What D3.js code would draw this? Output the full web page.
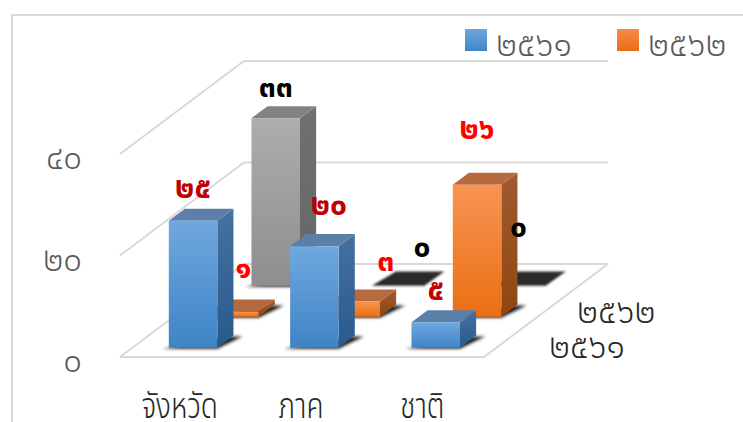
<!DOCTYPE html>
<html lang="th"><head><meta charset="utf-8">
<script src="https://cdn.jsdelivr.net/npm/d3@7/dist/d3.min.js"></script>
<style>
html,body{margin:0;padding:0;background:#fff}
svg{display:block}
text{font-family:"Noto Sans Thai","Noto Sans","DejaVu Sans",sans-serif}
</style></head><body>
<svg id="c" width="743" height="422"></svg>
<script>
const categories = ["จังหวัด","ภาค","ชาติ"];
const series2561 = [25,20,5];
const series2562 = [1,3,26];
const seriesHidden = [33,0,0];
const legendNames = ["2561","2562"];
const depthLabels = ["2561","2562"];
const yTicks = [0,20,40];

const thai = s => String(s).replace(/\d/g,d=>"๐๑๒๓๔๕๖๗๘๙"[+d]);
const svg = d3.select("#c");
const defs = svg.append("defs");
function grad(id,a,b){const g=defs.append("linearGradient").attr("id",id).attr("x1",0).attr("x2",0).attr("y1",0).attr("y2",1);
  g.append("stop").attr("offset",0).attr("stop-color",a);g.append("stop").attr("offset",1).attr("stop-color",b);return `url(#${id})`;}
const blurF=(id,s)=>defs.append("filter").attr("id",id).attr("x","-30%").attr("y","-60%").attr("width","160%").attr("height","220%").append("feGaussianBlur").attr("stdDeviation",s);
blurF("blur",1.5); blurF("blur0",.8);

const x = d3.scaleBand().domain(categories).range([120,484]).paddingInner(.6).paddingOuter(.3);
const y = d3.scaleLinear().domain([0,40]).range([357,154]);
const depth = d3.scaleLinear().domain([0,3]).range([0,1]);
const floorDX=124, floorDY=-93;
const proj=(px,py,d)=>[px+depth(d)*floorDX, py+depth(d)*floorDY];
const ph=v=>y(0)-y(v);
const line=d3.line();

// frame
svg.append("path").attr("d","M12,422V15H743").attr("fill","none").attr("stroke","#d9d9d9").attr("stroke-width",2);

// walls & floor
const grid=svg.append("g").attr("fill","none").attr("stroke","#d9d9d9").attr("stroke-width",2);
yTicks.forEach(t=>{
  const a=[120,y(t)], b=proj(120,y(t),3), c=proj(484,y(t),3);
  grid.append("path").attr("d",line([a,b,c]));
});
grid.append("path").attr("d",line([[120,y(0)],[484,y(0)],proj(484,y(0),3)]));

const rows=[
 {vals:seriesHidden,row:2.3,front:grad("gf","#adadad","#8e8e8e"),top:"#828282",side:grad("gs","#707070","#666"),
  off:[[0,-32,"#000"],[25,-39,"#000"],[0,-59,"#000"]]},
 {vals:series2562,row:1.3,front:grad("of","#f79452","#ea6f14"),top:"#b66a3e",side:grad("os","#a05a30","#8f4610"),
  off:[[9,-44,"#ff0000"],[30,-41,"#ff0000"],[0,-56,"#ff0000"]]},
 {vals:series2561,row:.3,front:grad("bf","#70a8df","#3f84c6"),top:"#5a80a9",side:grad("bs","#46719f","#285a8c"),
  off:[[0,-33,"#c00000"],[14.5,-42,"#c00000"],[0,-33,"#c00000"]]}
];
const bw=x.bandwidth(), bar=svg.append("g"), labels=[];
rows.forEach(r=>{
  r.vals.forEach((v,i)=>{
    const x0=x(categories[i]);
    const [fx,fb]=proj(x0,y(0),r.row);
    const [bx,bb]=proj(x0,y(0),r.row+.39);
    const dx=bx-fx, dy=bb-fb, t=fb-ph(v), g=bar.append("g");
    if(v>0) g.append("path").attr("d",line([[fx-6,fb+1],[fx+bw,fb+1],[fx+bw+dx+9,fb+dy+1],[fx+bw+dx-6,fb+dy+1]])+"Z").attr("fill","#222").attr("filter","url(#blur)");
    else g.append("path").attr("d",line([[fx-1,fb],[fx+bw+3,fb],[fx+bw+dx+7,fb+dy-2],[fx+dx+7,fb+dy-2]])+"Z").attr("fill","#2b2b2b").attr("filter","url(#blur0)");
    if(v>0){
      g.append("path").attr("d",line([[fx+bw,t],[fx+bw+dx,t+dy],[fx+bw+dx,fb+dy],[fx+bw,fb]])+"Z").attr("fill",r.side);
      g.append("path").attr("d",line([[fx,t],[fx+dx,t+dy],[fx+bw+dx,t+dy],[fx+bw,t]])+"Z").attr("fill",r.top);
      g.append("path").attr("d",line([[fx,t],[fx+bw,t],[fx+bw,fb],[fx,fb]])+"Z").attr("fill",r.front);
    }
    labels.push({v,x:fx+bw/2+r.off[i][0],y:t+r.off[i][1],c:r.off[i][2]});
  });
});

// value labels
svg.append("g").selectAll("text").data(labels).join("text")
  .attr("x",d=>d.x).attr("y",d=>d.y).attr("dy",".35em").attr("text-anchor","middle")
  .attr("font-size",30).attr("font-weight",700).attr("fill",d=>d.c).text(d=>thai(d.v));

// y axis
const ya=svg.append("g").attr("transform","translate(85,4)")
 .call(d3.axisLeft(y).tickValues(yTicks).tickSize(0).tickPadding(3).tickFormat(thai));
ya.select(".domain").remove();
ya.selectAll("text").attr("font-size",33).attr("font-weight",300).attr("fill","#595959");

// category axis
const xa=svg.append("g").attr("transform","translate(-1,393)")
 .call(d3.axisBottom(x).tickSize(0).tickPadding(0));
xa.select(".domain").remove();
xa.selectAll("text").attr("font-size",28).attr("font-weight",300).attr("fill","#262626").attr("transform","scale(1,1.25)");
svg.selectAll("g").filter(function(){return this.hasAttribute("font-family")}).attr("font-family",null);

// depth axis labels
const depthX=d3.scaleLinear().domain([0,1]).range([549,577]);
const depthY=d3.scaleLinear().domain([0,1]).range([346,311]);
svg.append("g").selectAll("text").data(depthLabels).join("text")
  .attr("x",(d,i)=>depthX(i)).attr("y",(d,i)=>depthY(i))
  .attr("dy",".35em").attr("font-size",34).attr("font-weight",300).attr("fill","#262626").text(thai);

// legend
const lg=svg.append("g");
[["bl",465,"#6ea6dd","#3f86c8"],["ol",617,"#f58a4c","#ea6d14"]].forEach((d,i)=>{
  lg.append("rect").attr("x",d[1]).attr("y",29).attr("width",22).attr("height",22).attr("fill",grad(d[0],d[2],d[3]));
  lg.append("text").attr("x",d[1]+31).attr("y",44).attr("dy",".35em").attr("font-size",34).attr("font-weight",300).attr("fill","#595959").text(thai(legendNames[i]));
});
</script></body></html>
